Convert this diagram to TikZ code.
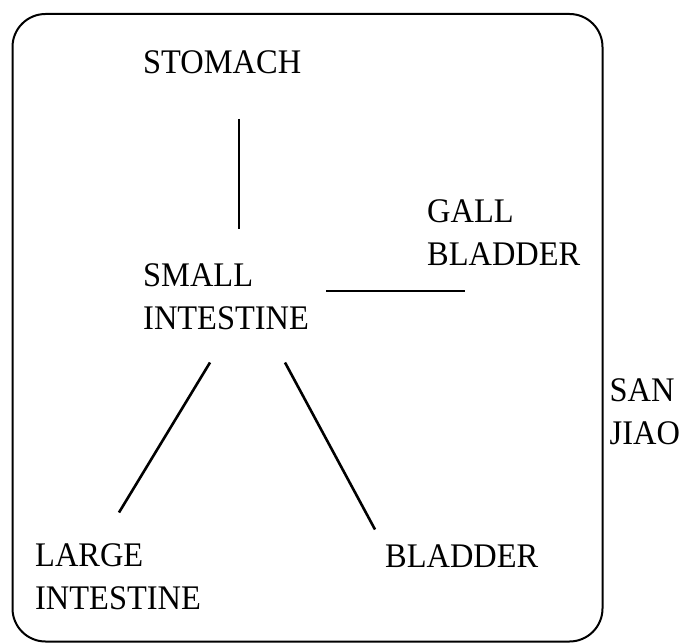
\documentclass[tikz,border=0pt]{standalone}
\usepackage{fontspec}
\setmainfont[FakeStretch=0.94]{Liberation Serif}

\begin{document}
\begin{tikzpicture}[x=1pt, y=-1pt,
  organ/.style={anchor=base west, inner sep=0pt, align=left,
                font=\fontsize{34.5}{43}\selectfont},
  link/.style={line width=2.6pt}]
  \useasboundingbox (0,0) rectangle (683,644);
  % Outer frame
  \draw[line width=2pt, rounded corners=33pt] (12.5,14) rectangle (602.5,641.5);
  % Organs (base = last line)
  \node[organ] (stomach) at (143,74) {STOMACH};
  \node[organ] (small) at (143,330) {SMALL\\INTESTINE};
  \node[organ] (gall) at (427,266) {GALL\\BLADDER};
  \node[organ] (large) at (35,609.3) {LARGE\\INTESTINE};
  \node[organ] (bladder) at (385,567) {BLADDER};
  \node[organ] (sanjiao) at (609.5,444) {SAN\\JIAO};
  % Free ends of the links
  \coordinate (st-top) at (238.7,119);
  \coordinate (st-bot) at (238.7,229);
  \coordinate (gb-left) at (326,291);
  \coordinate (gb-right) at (464.5,291);
  \coordinate (li-top) at (210,362.5);
  \coordinate (li-bot) at (119,512.5);
  \coordinate (bl-top) at (285,362.5);
  \coordinate (bl-bot) at (375,529.5);
  % Links
  \draw[line width=1.9pt] (st-top) -- (st-bot);
  \draw[link] (gb-left) -- (gb-right);
  \draw[link] (li-top) -- (li-bot);
  \draw[link] (bl-top) -- (bl-bot);
\end{tikzpicture}
\end{document}
